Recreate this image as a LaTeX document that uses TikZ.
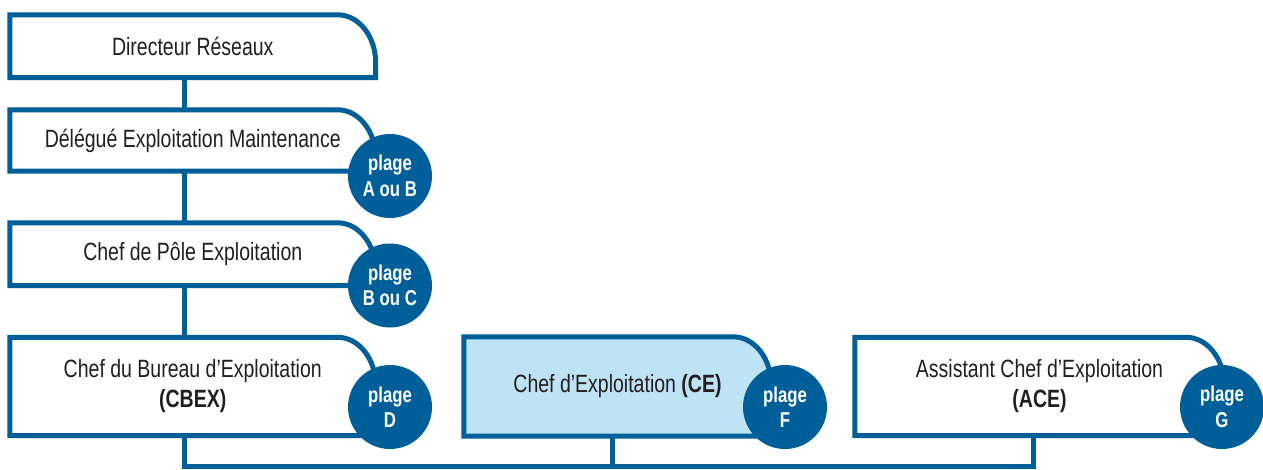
\documentclass[tikz,border=0pt]{standalone}
\usepackage{fontspec}
\setmainfont{Liberation Sans}[FakeStretch=0.78]
\usetikzlibrary{backgrounds}
\definecolor{bleu}{HTML}{005F99}
\definecolor{bleuclair}{HTML}{BEE3F4}
\definecolor{gristexte}{HTML}{231F20}
% cadre a coin arrondi en haut a droite, trace autour d'un noeud
\newcommand\cadre[2]{\draw[trait, fill=#2] (#1.south west) -- (#1.north west) -- ([xshift=-38pt]#1.north east) arc[start angle=90, end angle=0, x radius=38pt, y radius=48pt] -- (#1.south east) -- cycle;}
\begin{document}
\begin{tikzpicture}[x=1pt, y=-1pt,
  poste/.style={rectangle, inner sep=0pt, text=gristexte, align=center, font=\fontsize{25}{30}\selectfont},
  pastille/.style={circle, fill=bleu, minimum size=84pt, inner sep=0pt, text=white, align=center, font=\bfseries\fontsize{21.5}{25.5}\selectfont},
  trait/.style={draw=bleu, line width=5pt}]
\useasboundingbox (0,0) rectangle (1263,469);
\node[poste, minimum width=365.5pt, minimum height=62.5pt] (dir) at (192.75,46.25){Directeur Réseaux};
\node[poste, minimum width=365.5pt, minimum height=61pt] (dem) at (192.75,140.5){Délégué Exploitation Maintenance};
\node[poste, minimum width=365.5pt, minimum height=62.5pt] (pole) at (192.75,254.25){Chef de Pôle Exploitation};
\node[poste, minimum width=365.5pt, minimum height=98pt] (cbex) at (192.75,386.5){Chef du Bureau d’Exploitation\\\textbf{(CBEX)}};
\node[poste, minimum width=307pt, minimum height=99pt] (ce) at (617.5,386.5){Chef d’Exploitation \textbf{(CE)}};
\node[poste, minimum width=369pt, minimum height=98pt] (ace) at (1039.5,386.5){Assistant Chef d’Exploitation\\\textbf{(ACE)}};
\begin{scope}[on background layer]
\fill[white] (0,0) rectangle (1263,469);
\cadre{dir}{white}
\cadre{dem}{white}
\cadre{pole}{white}
\cadre{cbex}{white}
\cadre{ce}{bleuclair}
\cadre{ace}{white}
\end{scope}
\coordinate (bas) at (184,466);
\draw[trait] ([xshift=-8.75pt]dir.south) -- ([xshift=-8.75pt]dem.north);
\draw[trait] ([xshift=-8.75pt]dem.south) -- ([xshift=-8.75pt]pole.north);
\draw[trait] ([xshift=-8.75pt]pole.south) -- ([xshift=-8.75pt]cbex.north);
\draw[trait] ([xshift=-8.75pt]cbex.south) -- (bas) -| ([xshift=-6.5pt]ace.south);
\draw[trait] ([xshift=-5.5pt]ce.south) -- ([xshift=-5.5pt]ce.south |- bas);
\node[pastille] (pdem) at (390,176){plage\\A ou B};
\node[pastille] (ppole) at (390,285.5){plage\\B ou C};
\node[pastille] (pcbex) at (390,407){plage\\D};
\node[pastille] (pce) at (785,407){plage\\F};
\node[pastille] (pace) at (1222,407){plage\\G};
\end{tikzpicture}
\end{document}
